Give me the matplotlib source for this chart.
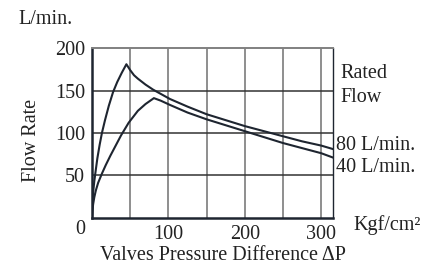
import matplotlib.pyplot as plt
import numpy as np

plt.rcParams['font.family'] = ['Liberation Serif', 'DejaVu Serif']

# 80 L/min curve (rise then fall)
x80 = [0, 0.5, 1.5, 3, 4.3, 7, 10, 13, 17, 22, 27.5, 33, 39, 45,
       50, 55, 60, 70, 80, 90, 102, 125, 150, 175, 200, 225, 250, 275, 300, 315]
y80 = [0, 15, 30, 43, 52, 70, 86, 100, 115, 132, 148, 160, 171, 181,
       174, 168, 164, 157, 151, 146, 140, 131, 122, 115, 108, 102, 96, 90, 85, 81]

# 40 L/min curve
x40 = [0, 0.5, 1.5, 3, 5, 8, 13, 18, 24, 31, 38, 48, 60, 70, 81,
       90, 102, 125, 150, 175, 200, 225, 250, 275, 300, 315]
y40 = [0, 8, 16, 24, 32, 41, 52, 62, 73, 85, 97, 112, 126, 134, 141,
       138, 133, 124, 116, 109, 102, 95, 88, 82, 76, 71]

xgrid = [50, 100, 150, 200, 250, 300]
xlabels = ['', '100', '', '200', '', '300']
ygrid = [50, 100, 150, 200]

fig = plt.figure(figsize=(4.32, 2.66), dpi=100)
ax = fig.add_axes([0.213, 0.182, 0.557, 0.637])

ax.plot(x80, y80, color='#1e2530', lw=1.5, solid_joinstyle='round')
ax.plot(x40, y40, color='#1e2530', lw=1.5, solid_joinstyle='round')

ax.set_xlim(0, 315)
ax.set_ylim(0, 200)
ax.set_xticks(xgrid)
ax.set_xticklabels(xlabels)
ax.set_yticks(ygrid)
ax.tick_params(length=0, labelsize=14.5, pad=5, colors='#222')
for v in xgrid:
    ax.axvline(v, color='#707070', lw=1.1, zorder=0)
for v in ygrid[:-1]:
    ax.axhline(v, color='#333', lw=1.1, zorder=0)

ax.spines['left'].set_linewidth(1.8)
ax.spines['bottom'].set_linewidth(1.8)
ax.spines['right'].set_linewidth(1.0)
ax.spines['top'].set_linewidth(1.4)
ax.spines['top'].set_color('#808080')
for s in ['left', 'bottom', 'right']:
    ax.spines[s].set_color('#1e2530')

fs = 14.5
fig.text(18/432, 1 - 20/266, 'L/min.', fontsize=fs, va='center', ha='left', color='#222')
fig.text(80/432, 1 - 230/266, '0', fontsize=fs, va='center', ha='center', color='#222')
fig.text(31/432, 1 - 140/266, 'Flow Rate', fontsize=fs, rotation=90, va='center', ha='center', color='#222')
fig.text(100/432, 1 - 255/266, 'Valves Pressure Difference \u0394P', fontsize=fs, va='center', ha='left', color='#222')
fig.text(353/432, 1 - 225/266, 'Kgf/cm\u00b2', fontsize=fs, va='center', ha='left', color='#222')
fig.text(340/432, 1 - 74/266, 'Rated', fontsize=fs, va='center', ha='left', color='#222')
fig.text(340/432, 1 - 98/266, 'Flow', fontsize=fs, va='center', ha='left', color='#222')
fig.text(336/432, 1 - 146/266, '80 L/min.', fontsize=fs, va='center', ha='left', color='#222')
fig.text(336/432, 1 - 168/266, '40 L/min.', fontsize=fs, va='center', ha='left', color='#222')

fig.savefig('out.png', dpi=100)
